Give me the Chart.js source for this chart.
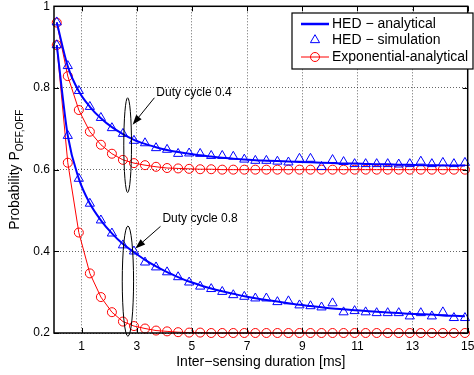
<!DOCTYPE html>
<html>
<head>
<meta charset="utf-8">
<script src="https://cdn.jsdelivr.net/npm/chart.js@4.4.1/dist/chart.umd.min.js"></script>
<style>
  html, body { margin: 0; padding: 0; background: #fff; }
  canvas { display: block; }
</style>
</head>
<body>
<canvas id="myChart" width="474" height="375"></canvas>
<script>
// Inter-sensing duration [ms]
var xValues = [0.1, 0.5, 0.9, 1.3, 1.7, 2.1, 2.5, 2.9, 3.3, 3.7, 4.1, 4.5, 4.9, 5.3, 5.7, 6.1, 6.5, 6.9, 7.3, 7.7,
               8.1, 8.5, 8.9, 9.3, 9.7, 10.1, 10.5, 10.9, 11.3, 11.7, 12.1, 12.5, 12.9, 13.3, 13.7, 14.1, 14.5, 14.9];

// Duty cycle 0.4
var hedAnalytic04 = [0.961, 0.853, 0.792, 0.754, 0.726, 0.704, 0.687, 0.673, 0.663, 0.655,
                     0.648, 0.643, 0.639, 0.635, 0.632, 0.629, 0.627, 0.625, 0.623, 0.622,
                     0.621, 0.620, 0.619, 0.618, 0.617, 0.616, 0.615, 0.615, 0.614, 0.613,
                     0.613, 0.612, 0.612, 0.611, 0.611, 0.610, 0.610, 0.610];
var hedSim04 = [0.961, 0.854, 0.793, 0.754, 0.727, 0.702, 0.688, 0.671, 0.665, 0.653,
                0.649, 0.639, 0.640, 0.639, 0.634, 0.634, 0.632, 0.625, 0.622, 0.622,
                0.620, 0.618, 0.627, 0.627, 0.607, 0.624, 0.619, 0.614, 0.614, 0.614,
                0.614, 0.613, 0.614, 0.620, 0.614, 0.617, 0.614, 0.617];
var expAnalytic04 = [0.960, 0.829, 0.746, 0.693, 0.661, 0.639, 0.624, 0.616, 0.611, 0.607,
                     0.604, 0.603, 0.602, 0.601, 0.601, 0.600, 0.600, 0.600, 0.600, 0.600,
                     0.600, 0.600, 0.600, 0.600, 0.600, 0.600, 0.600, 0.600, 0.600, 0.600,
                     0.600, 0.600, 0.600, 0.600, 0.600, 0.600, 0.600, 0.600];

// Duty cycle 0.8
var hedAnalytic08 = [0.905, 0.683, 0.578, 0.517, 0.476, 0.444, 0.418, 0.398, 0.379, 0.363,
                     0.349, 0.337, 0.326, 0.317, 0.309, 0.302, 0.296, 0.290, 0.285, 0.281,
                     0.277, 0.273, 0.269, 0.266, 0.263, 0.260, 0.258, 0.256, 0.254, 0.252,
                     0.250, 0.249, 0.247, 0.246, 0.245, 0.243, 0.242, 0.241];
var hedSim08 = [0.905, 0.683, 0.578, 0.517, 0.476, 0.444, 0.415, 0.400, 0.373, 0.361,
                0.349, 0.337, 0.324, 0.314, 0.308, 0.301, 0.293, 0.289, 0.285, 0.285,
                0.276, 0.278, 0.268, 0.266, 0.263, 0.273, 0.251, 0.254, 0.251, 0.249,
                0.249, 0.249, 0.241, 0.249, 0.241, 0.251, 0.237, 0.237];
var expAnalytic08 = [0.905, 0.617, 0.446, 0.346, 0.288, 0.251, 0.228, 0.217, 0.211, 0.206,
                     0.204, 0.202, 0.201, 0.201, 0.200, 0.200, 0.200, 0.200, 0.200, 0.200,
                     0.200, 0.200, 0.200, 0.200, 0.200, 0.200, 0.200, 0.200, 0.200, 0.200,
                     0.200, 0.200, 0.200, 0.200, 0.200, 0.200, 0.200, 0.200];

// Axis ticks and labels
var xTickValues = [1, 3, 5, 7, 9, 11, 13, 15];
var yTickValues = [0.2, 0.4, 0.6, 0.8, 1];
var legendLabels = ['HED \u2212 analytical', 'HED \u2212 simulation', 'Exponential-analytical'];
var xTitle = 'Inter\u2212sensing duration [ms]';
var yTitle = 'Probability P';
var yTitleSub = 'OFF,OFF';

// Annotations (data units)
var notes = [
  { text: 'Duty cycle 0.4', x: 3.71, y: 0.788, arrowFrom: [3.64, 0.776], arrowTo: [2.85, 0.71],
    ellipse: { x: 2.67, y: 0.66, rx: 0.14, ry: 0.116 } },
  { text: 'Duty cycle 0.8', x: 3.93, y: 0.48, arrowFrom: [3.86, 0.461], arrowTo: [2.95, 0.407],
    ellipse: { x: 2.68, y: 0.327, rx: 0.205, ry: 0.135 } }
];

var FONT = '"Liberation Sans", Arial, Helvetica, sans-serif';
var BLUE = '#0000ff';
var RED = '#ff0000';

function toPoints(values) {
  return xValues.map(function (x, i) { return { x: x, y: values[i] }; });
}

function analyticSet(values) {
  return { data: toPoints(values), borderColor: BLUE, borderWidth: 2, pointRadius: 0,
           cubicInterpolationMode: 'monotone', clip: false };
}
function simSet(values) {
  return { data: toPoints(values), showLine: false, pointStyle: 'triangle', pointRadius: 5.3,
           borderColor: BLUE, backgroundColor: 'rgba(0,0,0,0)', pointBorderWidth: 1, clip: false };
}
function expSet(values) {
  return { data: toPoints(values), borderColor: RED, borderWidth: 1, pointStyle: 'circle',
           pointRadius: 4.5, pointBorderWidth: 1, backgroundColor: 'rgba(0,0,0,0)', clip: false };
}

var decorations = {
  id: 'decorations',
  afterDraw: function (chart) {
    var ctx = chart.ctx, a = chart.chartArea, xs = chart.scales.x, ys = chart.scales.y;
    function px(v) { return xs.getPixelForValue(v); }
    function py(v) { return ys.getPixelForValue(v); }
    function seg(x1, y1, x2, y2) { ctx.beginPath(); ctx.moveTo(x1, y1); ctx.lineTo(x2, y2); ctx.stroke(); }

    ctx.save();
    ctx.strokeStyle = '#000';
    ctx.fillStyle = '#000';

    // inward ticks
    ctx.lineWidth = 1;
    xTickValues.forEach(function (v) {
      var x = Math.round(px(v)) + 0.5;
      seg(x, a.bottom, x, a.bottom - 5);
      seg(x, a.top, x, a.top + 5);
    });
    yTickValues.forEach(function (v) {
      var y = Math.round(py(v)) + 0.5;
      seg(a.left, y, a.left + 5, y);
      seg(a.right, y, a.right - 5, y);
    });

    // axes box
    ctx.lineWidth = 1.5;
    ctx.strokeRect(a.left, a.top, a.right - a.left, a.bottom - a.top);

    // ellipses, arrows, notes
    ctx.lineWidth = 1;
    notes.forEach(function (n) {
      var e = n.ellipse;
      var cx = px(e.x), cy = py(e.y);
      var rx = px(e.x + e.rx) - cx, ry = cy - py(e.y + e.ry);
      ctx.beginPath();
      ctx.ellipse(cx, cy, rx, ry, 0, 0, Math.PI * 2);
      ctx.stroke();

      var x1 = px(n.arrowFrom[0]), y1 = py(n.arrowFrom[1]);
      var x2 = px(n.arrowTo[0]), y2 = py(n.arrowTo[1]);
      var ang = Math.atan2(y2 - y1, x2 - x1);
      var L = 10, W = 3.5;
      var bx = x2 - L * Math.cos(ang), by = y2 - L * Math.sin(ang);
      seg(x1, y1, bx, by);
      ctx.beginPath();
      ctx.moveTo(x2, y2);
      ctx.lineTo(bx + W * Math.sin(ang), by - W * Math.cos(ang));
      ctx.lineTo(bx - W * Math.sin(ang), by + W * Math.cos(ang));
      ctx.closePath();
      ctx.fill();

      ctx.font = '12px ' + FONT;
      ctx.textAlign = 'left';
      ctx.textBaseline = 'middle';
      ctx.fillText(n.text, px(n.x), py(n.y));
    });

    // legend
    var lx = 292, ly = 13, lw = 181, lh = 56;
    ctx.fillStyle = '#fff';
    ctx.fillRect(lx, ly, lw, lh);
    ctx.lineWidth = 1.2;
    ctx.strokeStyle = '#000';
    ctx.strokeRect(lx, ly, lw, lh);
    var rows = [24, 40, 57];
    var sx1 = 301, sx2 = 329, mx = 315;
    // HED analytical
    ctx.strokeStyle = BLUE; ctx.lineWidth = 2.5;
    seg(sx1, rows[0], sx2, rows[0]);
    // HED simulation triangle
    ctx.lineWidth = 1;
    var r = 5.3;
    ctx.beginPath();
    ctx.moveTo(mx, rows[1] - r);
    ctx.lineTo(mx + r * Math.sin(Math.PI * 2 / 3), rows[1] + r * 0.5);
    ctx.lineTo(mx - r * Math.sin(Math.PI * 2 / 3), rows[1] + r * 0.5);
    ctx.closePath();
    ctx.stroke();
    // Exponential
    ctx.strokeStyle = RED;
    seg(sx1, rows[2], sx2, rows[2]);
    ctx.beginPath();
    ctx.arc(mx, rows[2], 4.5, 0, Math.PI * 2);
    ctx.stroke();
    ctx.fillStyle = '#000';
    ctx.font = '14px ' + FONT;
    ctx.textAlign = 'left';
    ctx.textBaseline = 'middle';
    legendLabels.forEach(function (t, i) { ctx.fillText(t, 332, rows[i] + 0.5); });

    // axis titles
    ctx.textAlign = 'center';
    ctx.fillText(xTitle, (a.left + a.right) / 2, 362);

    ctx.translate(15, (a.top + a.bottom) / 2);
    ctx.rotate(-Math.PI / 2);
    ctx.font = '14px ' + FONT;
    var wMain = ctx.measureText(yTitle).width;
    ctx.font = '10px ' + FONT;
    var wSub = ctx.measureText(yTitleSub).width;
    var start = -(wMain + wSub) / 2;
    ctx.textAlign = 'left';
    ctx.font = '14px ' + FONT;
    ctx.fillText(yTitle, start, 0);
    ctx.font = '10px ' + FONT;
    ctx.fillText(yTitleSub, start + wMain, 5);

    ctx.restore();
  }
};

var ctx = document.getElementById('myChart').getContext('2d');

var myChart = new Chart(ctx, {
  type: 'line',
  data: {
    datasets: [
      analyticSet(hedAnalytic04),
      analyticSet(hedAnalytic08),
      simSet(hedSim04),
      simSet(hedSim08),
      expSet(expAnalytic04),
      expSet(expAnalytic08)
    ]
  },
  options: {
    responsive: false,
    animation: false,
    events: [],
    layout: { padding: { top: 5, right: 3, left: 0, bottom: 0 } },
    plugins: { legend: { display: false }, tooltip: { enabled: false } },
    scales: {
      x: {
        type: 'linear', min: 0, max: 15,
        afterBuildTicks: function (s) { s.ticks = xTickValues.map(function (v) { return { value: v }; }); },
        afterFit: function (s) { s.height = 42; s.paddingLeft = 0; s.paddingRight = 0; },
        grid: { color: 'rgba(0,0,0,0.6)', lineWidth: 1, drawTicks: false },
        border: { display: false, dash: [1, 2] },
        ticks: { color: '#000', padding: 6, maxRotation: 0, autoSkip: false, font: { family: FONT, size: 12 } }
      },
      y: {
        type: 'linear', min: 0.2, max: 1,
        afterBuildTicks: function (s) { s.ticks = yTickValues.map(function (v) { return { value: v }; }); },
        afterFit: function (s) { s.width = 54; s.paddingTop = 0; s.paddingBottom = 0; },
        grid: { color: 'rgba(0,0,0,0.6)', lineWidth: 1, drawTicks: false },
        border: { display: false, dash: [1, 2] },
        ticks: { color: '#000', padding: 4, font: { family: FONT, size: 12 },
                 callback: function (v) { return String(v); } }
      }
    }
  },
  plugins: [decorations]
});
</script>
</body>
</html>
